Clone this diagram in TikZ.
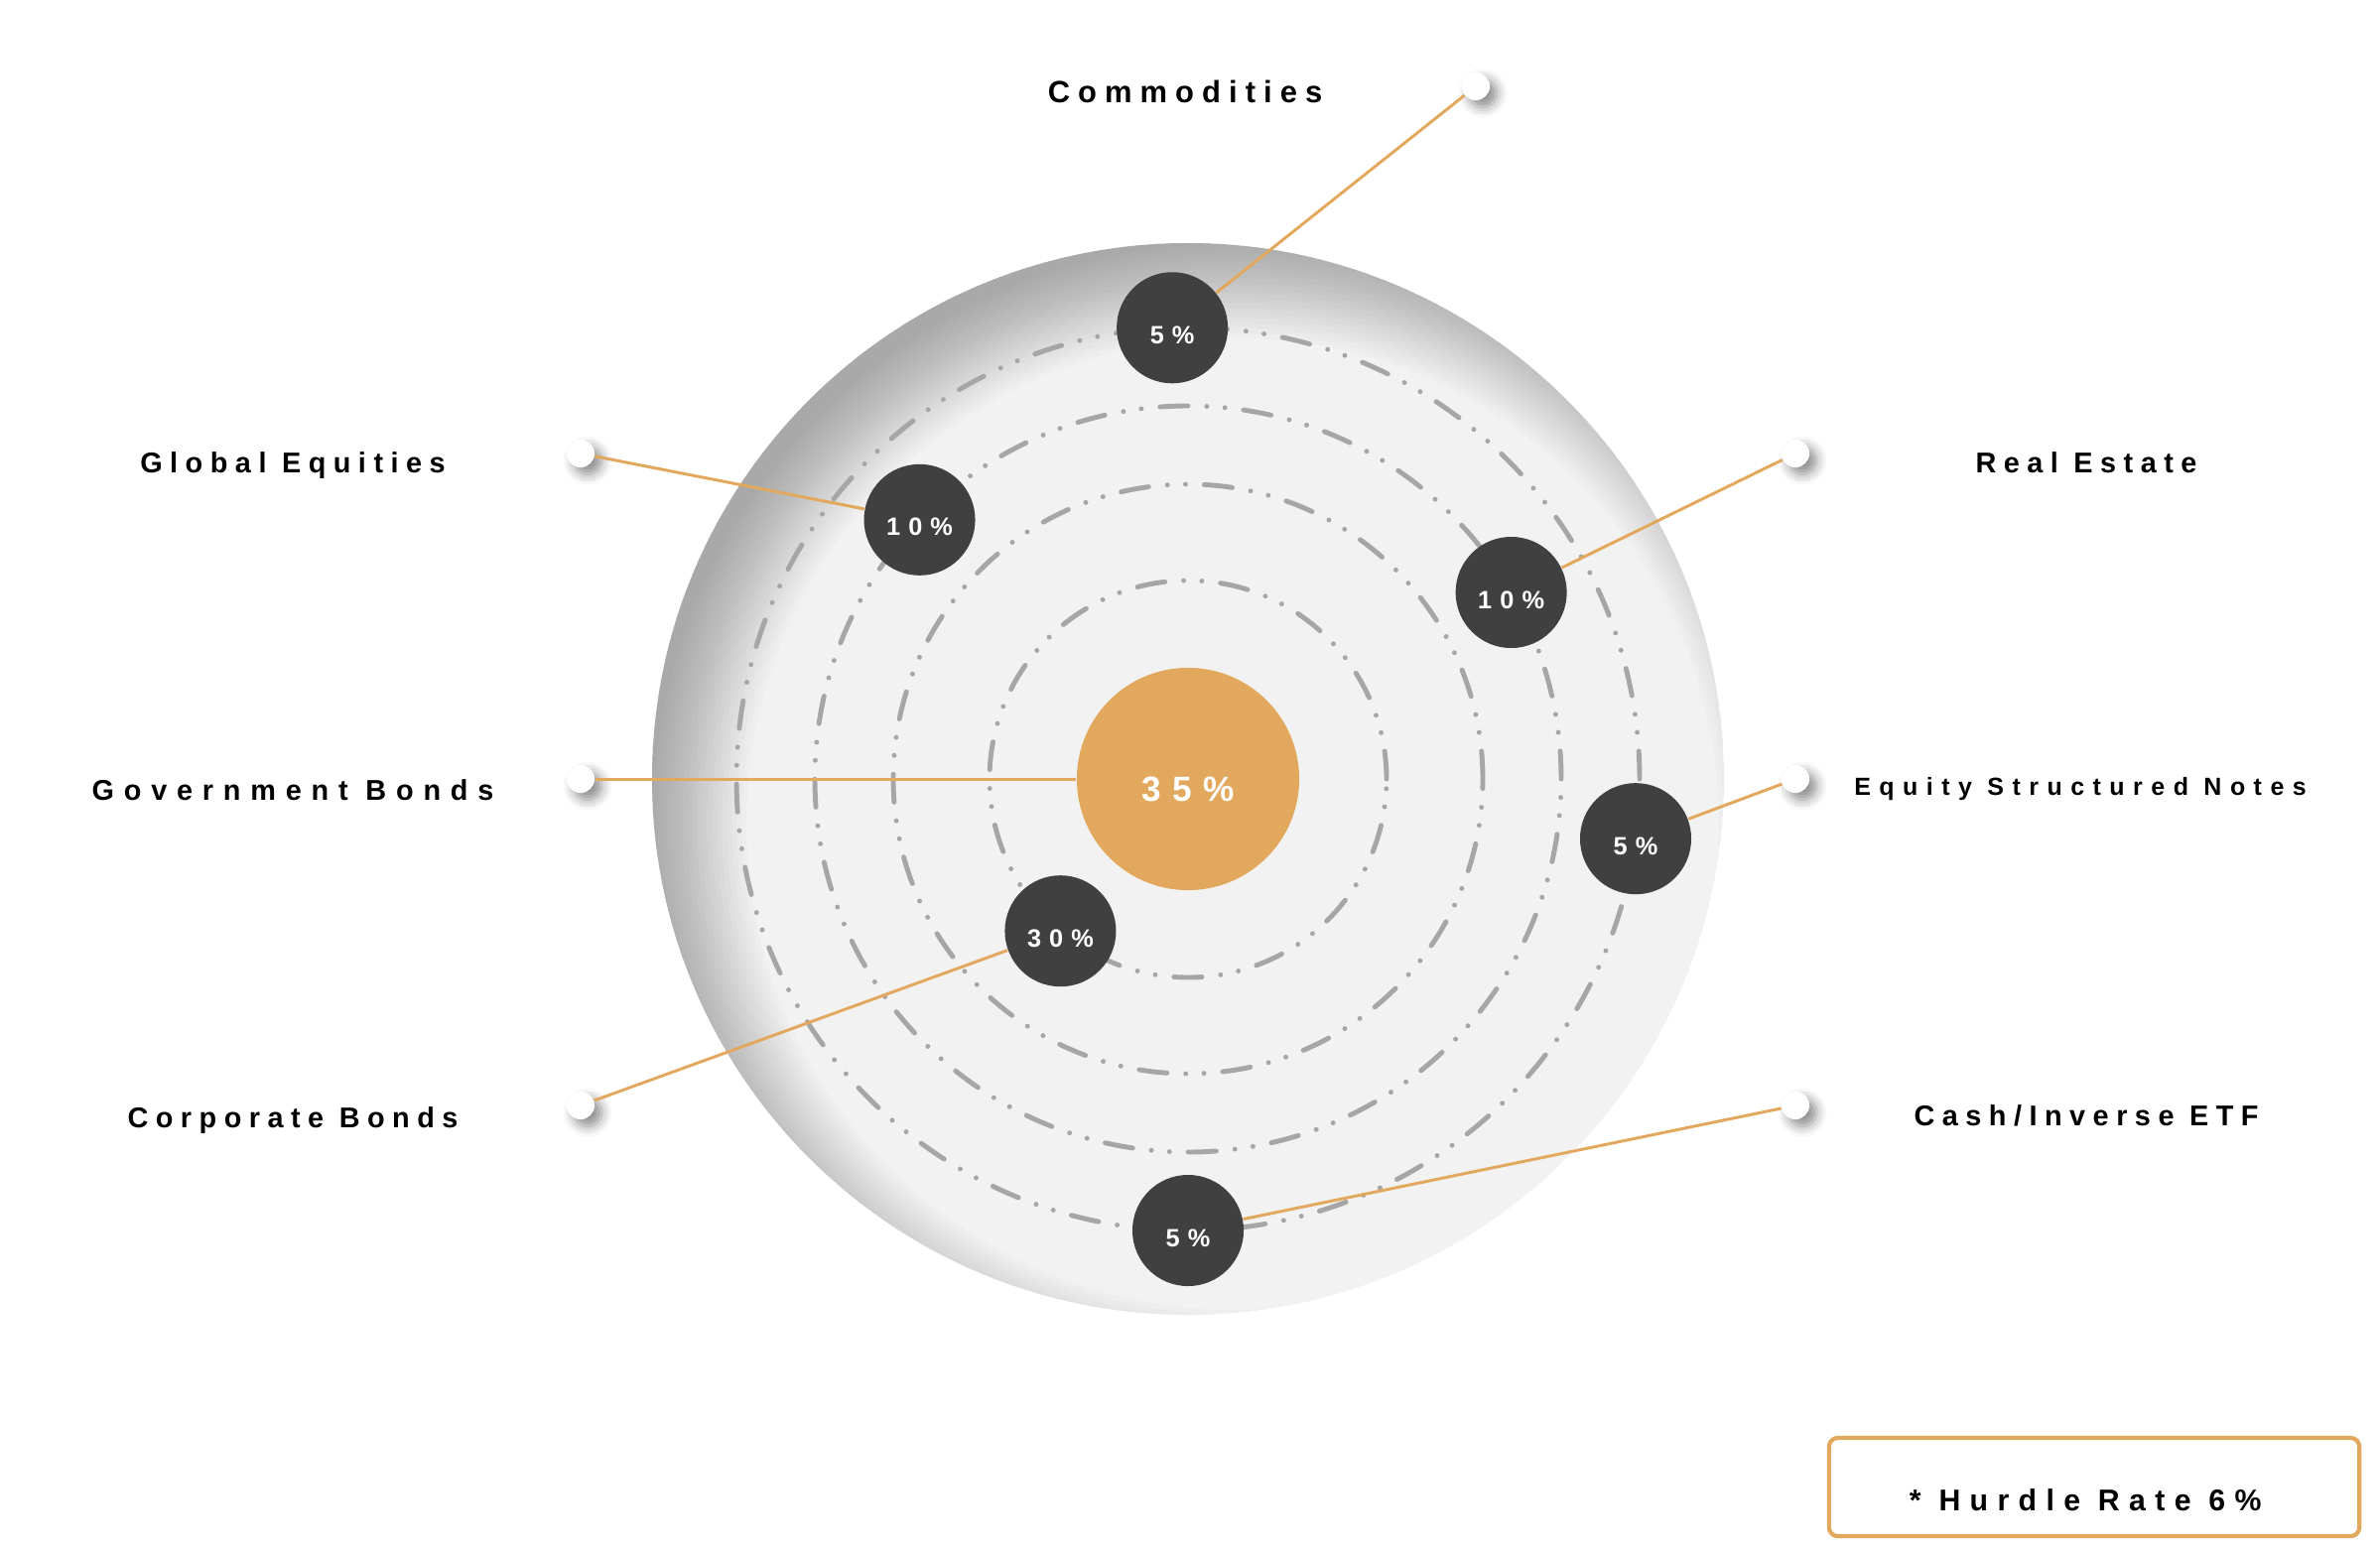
\documentclass[tikz,border=0pt]{standalone}
\usepackage{fontspec}
\setmainfont{Liberation Sans}
\newfontfamily\lblfont[LetterSpace=26]{Liberation Sans}
\newfontfamily\boxfont[LetterSpace=31]{Liberation Sans}
\newfontfamily\smlfont[LetterSpace=34]{Liberation Sans}
\newfontfamily\pctfont[LetterSpace=32]{Liberation Sans}
\usetikzlibrary{shadows.blur}

\definecolor{dotgray}{HTML}{404040}
\definecolor{ringgray}{HTML}{A6A6A6}
\definecolor{gold}{HTML}{E2A95E}
\definecolor{discin}{HTML}{F2F2F2}

\begin{document}
\begin{tikzpicture}[x=0.01cm,y=0.01cm,
  pct/.style={circle,fill=dotgray,text=white,minimum size=1.12cm,inner sep=0pt,
    text height=9.2pt,text depth=0pt,font=\pctfont\bfseries\fontsize{7.2}{8}\selectfont},
  core/.style={circle,fill=gold,text=white,minimum size=2.24cm,inner sep=0pt,
    text height=12.8pt,text depth=0pt,font=\pctfont\bfseries\fontsize{10}{12}\selectfont},
  pin/.style={circle,fill=white,minimum size=0.28cm,inner sep=0pt,
    blur shadow={shadow xshift=2pt,shadow yshift=-2pt,shadow blur radius=3pt,shadow opacity=45}},
  lbl/.style={anchor=base,font=\lblfont\bfseries\fontsize{8.2}{10}\selectfont},
  ring/.style={draw=ringgray,line width=1.4pt,line cap=round,
    dash pattern=on 8pt off 5.4pt on 0pt off 5.2pt on 0pt off 5.4pt},
  link/.style={draw=gold,line width=0.85pt},
  hurdle/.style={draw=gold,line width=1.2pt,rounded corners=2.5pt,minimum width=5.34cm,
    minimum height=0.99cm,inner sep=0pt,text height=13.4pt,text depth=0pt,
    font=\boxfont\bfseries\fontsize{8.6}{10}\selectfont}]

\useasboundingbox (0,0) rectangle (2398,1562);
\coordinate (o) at (1197,777);

% disc with its inner shadow
\begin{scope}
  \clip (o) circle (540);
  \fill[discin] (o) circle (540);
  \foreach \r in {490,495,...,585}
    \draw[black,opacity=0.016,line width=8cm] ([shift={(45,-45)}]o) circle (\r+400);
\end{scope}

% orbits
\foreach \r in {455,376,297,200}
  \draw[ring] (o) circle (\r);

% central share
\node[core] (core) at (o) {35\%};

% shares on the orbits
\node[pct] (comm) at ([shift={(92:455)}]o) {5\%};
\node[pct] (geq) at ([shift={(136:376)}]o) {10\%};
\node[pct] (real) at ([shift={(30:376)}]o) {10\%};
\node[pct] (esn) at ([shift={(-7.6:455)}]o) {5\%};
\node[pct] (corp) at ([shift={(-130:200)}]o) {30\%};
\node[pct] (cash) at ([shift={(-90:455)}]o) {5\%};

% pins
\node[pin] (pcomm) at (1487,1475) {};
\node[pin] (pgeq) at (585,1105) {};
\node[pin] (pgov) at (585,777) {};
\node[pin] (pcorp) at (585,448) {};
\node[pin] (preal) at (1809,1105) {};
\node[pin] (pesn) at (1809,777) {};
\node[pin] (pcash) at (1809,448) {};

% connectors
\draw[link] (pcomm) -- (comm);
\draw[link] (pgeq) -- (geq);
\draw[link] (pgov) -- (core);
\draw[link] (pcorp) -- (corp);
\draw[link] (preal) -- (real);
\draw[link] (pesn) -- (esn);
\draw[link] (pcash) -- (cash);

% labels
\node[lbl,font=\lblfont\bfseries\fontsize{8.8}{10}\selectfont] (lcomm) at (1194,1458) {Commodities};
\node[lbl] (lgeq) at (295,1086) {Global Equities};
\node[lbl,font=\smlfont\bfseries\fontsize{8.2}{10}\selectfont] (lgov) at (295,756) {Government Bonds};
\node[lbl] (lcorp) at (295,426) {Corporate Bonds};
\node[lbl] (lreal) at (2102,1086) {Real Estate};
\node[lbl,font=\smlfont\bfseries\fontsize{7.1}{9}\selectfont] (lesn) at (2096,761) {Equity Structured Notes};
\node[lbl] (lcash) at (2102,428) {Cash/Inverse ETF};

% hurdle rate
\node[hurdle] (hurdle) at (2110,63.5) {* Hurdle Rate 6\%\kern5pt};

\end{tikzpicture}
\end{document}
